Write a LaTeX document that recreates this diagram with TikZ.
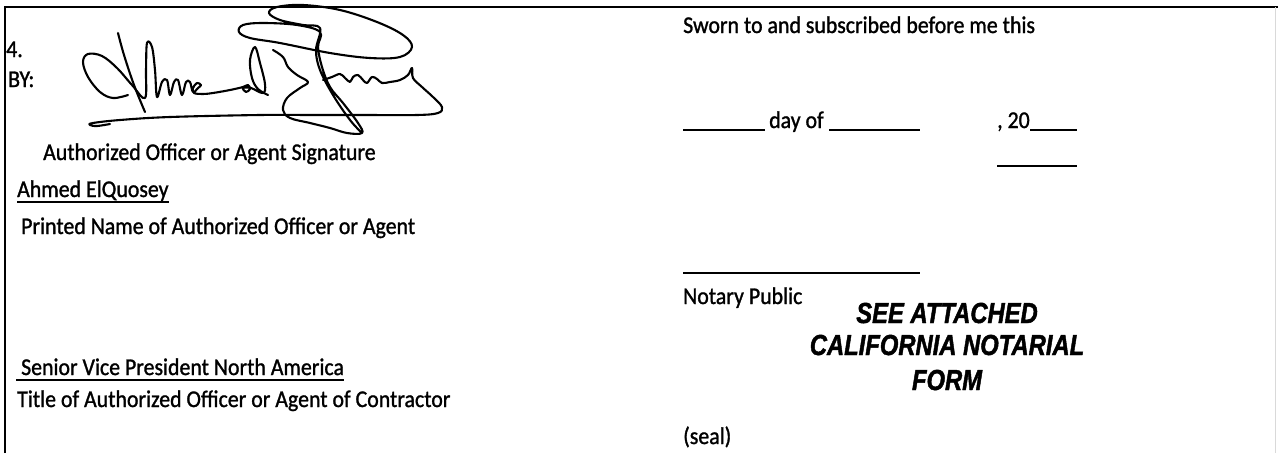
\documentclass[tikz,border=0pt]{standalone}
\usepackage{fontspec}
\setmainfont{Carlito}[FakeStretch=0.91,FakeBold=1.2]
\newfontfamily\stampfont{Liberation Sans}[FakeStretch=0.82,FakeBold=1.5]
\usetikzlibrary{calc}
\tikzset{
  every picture/.style={font=\fontsize{24}{28}\selectfont},
  lbl/.style={anchor=base west,inner sep=0pt},
  stamp/.style={anchor=base,inner sep=0pt,font=\stampfont\fontsize{29}{33}\selectfont\bfseries\itshape},
  rule/.style={line width=1.8pt},
  frame/.style={line width=2pt},
  ink/.style={line width=2.1pt,line cap=round,line join=round},
}

\begin{document}
\begin{tikzpicture}[x=1pt,y=-1pt]
  \useasboundingbox (0,0) rectangle (1278,453);
  \fill[white] (0,0) rectangle (1278,453);
  \draw[frame] (4.5,453) -- (4.5,7) -- (1278,7);
  \draw[black!15,line width=1pt] (1275,7) -- (1275,453);

  \node[lbl] (num) at (6,57) {4.};
  \node[lbl] (by) at (8,87) {BY:};
  \draw[ink] plot[smooth,tension=0.6] coordinates {(128,95) (113,98) (100,92) (88,77) (83,62) (88,54) (102,56) (117,68) (132,85) (145,98) (146,70) (147,43) (152,47) (155,70) (157,97) (162,82) (167,80) (170,95) (174,82) (178,80) (182,95) (186,82) (190,82) (193,92) (198,88) (201,85) (197,83) (193,88) (194,93) (203,94) (213,93) (230,90) (243,87) (248,85) (250,89) (246,92) (243,88) (251,88) (263,93) (265,84) (260,63) (255,47) (250,60) (252,78) (258,89) (268,95)};
  \draw[ink] plot[smooth,tension=0.6] coordinates {(118,33) (124,55) (134,85) (145,112)};
  \draw[ink] plot[smooth,tension=0.6] coordinates {(273,50) (283,57) (288,67) (297,75) (308,82) (300,88) (287,98) (283,110) (290,118) (310,123) (330,128) (347,133) (362,133) (358,123) (343,103) (330,87) (322,67) (318,47) (320,32) (297,25) (263,23) (243,25) (239,32) (250,38) (280,43) (330,53) (370,58) (400,57) (412,47) (403,35) (377,22) (340,10) (303,5) (277,7) (269,13) (280,20) (303,25) (320,28) (316,50) (320,70) (333,95) (350,120) (362,133)};
  \draw[ink] plot[smooth,tension=0.6] coordinates {(323,80) (332,77) (340,74) (345,78) (350,82) (353,77) (358,75) (363,80) (367,83) (372,77) (377,79) (382,83) (390,82) (400,80) (408,75) (412,68) (413,78) (422,87) (433,97) (442,107) (438,113) (417,115) (363,115) (313,115) (260,115) (170,117) (120,120) (93,123) (90,125) (97,126) (110,124)};
  \node[lbl] (sigcap) at (43,160) {Authorized Officer or Agent Signature};
  \node[lbl] (name) at (17,197) {Ahmed ElQuosey};
  \draw[rule] ($(name.base west)+(0,5)$) -- ($(name.base east)+(0,5)$);
  \node[lbl] (namecap) at (21,234) {Printed Name of Authorized Officer or Agent};
  \node[lbl] (title) at (16,375) {\ Senior Vice President North America};
  \draw[rule] ($(title.base west)+(0,5)$) -- ($(title.base east)+(0,5)$);
  \node[lbl] (titlecap) at (17,407) {Title of Authorized Officer or Agent of Contractor};

  \node[lbl] (sworn) at (683,33) {Sworn to and subscribed before me this};
  \node[lbl] (dayof) at (769,128) {day of};
  \node[lbl] (year) at (997,128) {, 20};
  \draw[rule] (683,130) -- (765,130) (829,130) -- (920,130) (1030,130) -- (1077,130);
  \draw[rule] (997,166) -- (1077,166);
  \draw[rule] (683,273) -- (920,273);
  \node[lbl] (notary) at (683,304) {Notary Public};
  \node[stamp] (stampA) at (947,323) {SEE ATTACHED};
  \node[stamp] (stampB) at (947,355) {CALIFORNIA NOTARIAL};
  \node[stamp] (stampC) at (947,390) {FORM};
  \node[lbl] (seal) at (683,444) {(seal)};
\end{tikzpicture}
\end{document}
